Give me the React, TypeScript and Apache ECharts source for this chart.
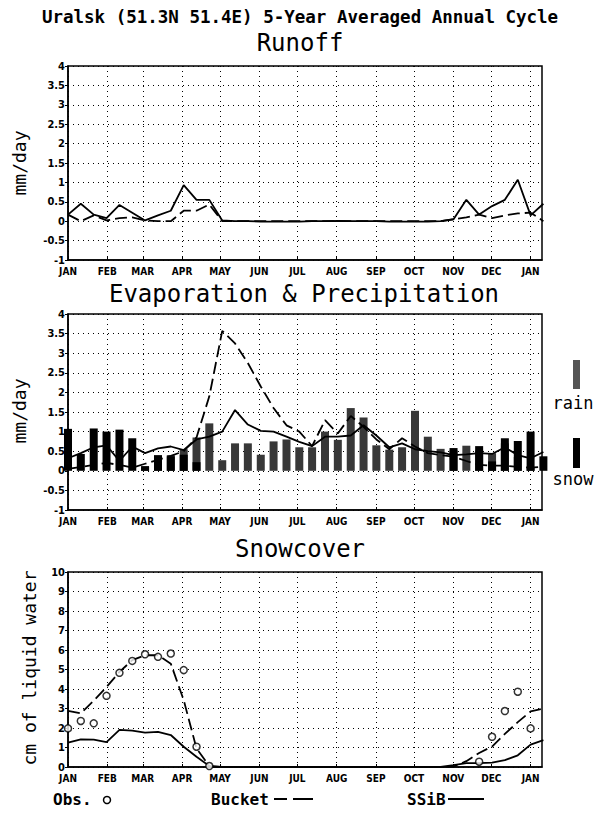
import React, { useEffect, useRef } from "react";
import * as echarts from "echarts";

// month boundaries (day of year) and their labels
const MONTH_DAYS = [0, 31, 59, 90, 120, 151, 181, 212, 243, 273, 304, 334, 365];
const MONTH_LABELS = ["JAN", "FEB", "MAR", "APR", "MAY", "JUN", "JUL", "AUG", "SEP", "OCT", "NOV", "DEC", "JAN"];

// 10-day (dekad) sample times, day of year
const DAYS = [
  0, 10.1, 20.3, 30.4, 40.6, 50.7, 60.8, 71.0, 81.1, 91.3, 101.4, 111.5, 121.7, 131.8, 141.9, 152.1, 162.2, 172.4, 182.5,
  192.6, 202.8, 212.9, 223.1, 233.2, 243.3, 253.5, 263.6, 273.8, 283.9, 294.0, 304.2, 314.3, 324.4, 334.6, 344.7, 354.9,
  365.0, 375.1,
];

// Runoff (mm/day)
const RUNOFF_SSIB = [
  0.17, 0.45, 0.17, 0.08, 0.42, 0.22, 0.02, 0.15, 0.27, 0.93, 0.55, 0.55, 0.02, 0, 0, -0.01, -0.01, -0.01, -0.01, 0, 0,
  0.01, 0, 0, 0, -0.01, -0.01, -0.01, -0.01, 0.0, 0.05, 0.55, 0.17, 0.39, 0.55, 1.07, 0.15, 0.45,
];
const RUNOFF_BUCKET = [
  0.17, 0.0, 0.15, 0.02, 0.08, 0.1, 0.02, 0.0, 0.0, 0.27, 0.27, 0.43, 0.0, 0, 0, 0, 0, 0, 0, 0, 0, 0, 0, 0, 0, 0, 0, 0,
  0, 0.0, 0.05, 0.1, 0.17, 0.08, 0.15, 0.2, 0.22, 0.0,
];

// Evaporation (mm/day)
const EVAP_SSIB = [
  0.32, 0.45, 0.6, 0.65, 0.25, 0.62, 0.45, 0.57, 0.62, 0.53, 0.8, 0.87, 1.0, 1.55, 1.18, 1.02, 1.0, 0.87, 0.74, 0.63,
  0.87, 0.87, 0.9, 1.16, 0.9, 0.6, 0.7, 0.55, 0.5, 0.47, 0.4, 0.42, 0.45, 0.43, 0.6, 0.4, 0.32, 0.48,
];
const EVAP_BUCKET = [
  0.05, 0.1, 0.15, 0.2, 0.15, 0.08, 0.18, 0.28, 0.38, 0.5, 0.85, 1.9, 3.57, 3.25, 2.75, 2.15, 1.6, 1.16, 1.0, 0.63, 1.29,
  0.95, 1.4, 1.12, 0.8, 0.55, 0.83, 0.62, 0.45, 0.4, 0.36, 0.25, 0.15, 0.13, 0.13, 0.1, 0.08, 0.1,
];

// Precipitation (mm/day): rain (grey) and snow (black), stacked
const PRECIP_RAIN = [
  0, 0, 0, 0, 0, 0, 0.1, 0.3, 0.4, 0.55, 0.85, 1.21, 0.27, 0.7, 0.7, 0.41, 0.75, 0.8, 0.6, 0.6, 1.0, 0.79, 1.6, 1.36,
  0.65, 0.54, 0.6, 1.53, 0.87, 0.56, 0.52, 0.64, 0.52, 0.45, 0.7, 0.35, 0.07, 0,
];
const PRECIP_SNOW = [
  1.07, 0.43, 1.08, 1.0, 1.05, 0.83, 0.12, 0.4, 0.37, 0.41, 0.22, 0, 0, 0, 0, 0, 0, 0, 0, 0, 0, 0, 0, 0, 0, 0, 0, 0, 0,
  0, 0.58, 0, 0.63, 0.24, 0.83, 0.76, 1.0, 0.37,
];

// Snowcover (cm of liquid water)
const SNOW_OBS = [
  1.98, 2.36, 2.24, 3.65, 4.83, 5.44, 5.78, 5.65, 5.82, 4.97, 1.04, 0.05, null, null, null, null, null, null, null,
  null, null, null, null, null, null, null, null, null, null, null, null, null, 0.27, 1.55, 2.87, 3.86, 1.98, 2.37,
];
const SNOW_SSIB = [
  1.25, 1.42, 1.4, 1.28, 1.9, 1.87, 1.76, 1.8, 1.64, 1.04, 0.53, 0.05, 0, 0, 0, 0, 0, 0, 0, 0, 0, 0, 0, 0, 0, 0, 0, 0,
  0, 0, 0.1, 0.2, 0.2, 0.22, 0.35, 0.6, 1.15, 1.38,
];
const SNOW_BUCKET = [
  2.88, 2.75, 3.4, 4.1, 4.88, 5.48, 5.73, 5.73, 5.3, 3.43, 0.95, 0.05, 0, 0, 0, 0, 0, 0, 0, 0, 0, 0, 0, 0, 0, 0, 0, 0,
  0, 0, 0.02, 0.3, 0.72, 1.05, 1.7, 2.3, 2.85, 3.0,
];

const MONO = "'DejaVu Sans Mono', monospace";
const COND = "'DejaVu Sans Condensed', 'Liberation Sans Narrow', sans-serif";

const pairs = (vals: (number | null)[]) =>
  vals.map((v, i) => [DAYS[i], v] as [number, number | null]).filter((p) => p[1] !== null);

const dotted = { color: "#000", width: 1, type: [1, 4] as any };

function xAxis(gridIndex: number) {
  return {
    type: "value",
    gridIndex,
    min: 0,
    max: 374,
    axisLine: { show: true, onZero: false, lineStyle: { color: "#000", width: 1.5 } },
    axisTick: { show: true, inside: true, length: 3, customValues: MONTH_DAYS, lineStyle: { color: "#000", width: 1 } },
    axisLabel: {
      customValues: MONTH_DAYS,
      formatter: (v: number) => {
        const k = MONTH_DAYS.indexOf(Math.round(v));
        return k >= 0 ? MONTH_LABELS[k] : "";
      },
      color: "#000",
      fontFamily: COND,
      fontWeight: "bold",
      fontSize: 10,
      margin: 6,
    },
    splitLine: { show: true, lineStyle: dotted },
  };
}

function yAxis(gridIndex: number, min: number, max: number, interval: number) {
  return {
    type: "value",
    gridIndex,
    min,
    max,
    interval,
    axisLine: { show: true, onZero: false, lineStyle: { color: "#000", width: 1.5 } },
    axisTick: { show: true, inside: false, length: 3, lineStyle: { color: "#000", width: 1 } },
    axisLabel: { color: "#000", fontFamily: COND, fontWeight: "bold", fontSize: 11, margin: 3 },
    splitLine: { show: true, lineStyle: dotted },
  };
}

const solid = { color: "#000", width: 1.8, type: "solid" as any };
const dashed = { color: "#000", width: 1.8, type: [12, 5] as any };

export default function App() {
  const ref = useRef<HTMLDivElement>(null);

  useEffect(() => {
    if (!ref.current) return;
    const chart = echarts.init(ref.current, null, { renderer: "svg" });
    const line = (x: number, data: (number | null)[], style: any) => ({
      type: "line",
      xAxisIndex: x,
      yAxisIndex: x,
      data: pairs(data),
      symbol: "none",
      lineStyle: style,
      z: 4,
      silent: true,
    });
    const option: any = {
      animation: false,
      backgroundColor: "#fff",
      grid: [
        { left: 68, top: 66, width: 474, height: 194, show: true, borderColor: "#000", borderWidth: 1.5 },
        { left: 68, top: 314, width: 474, height: 196, show: true, borderColor: "#000", borderWidth: 1.5 },
        { left: 68, top: 572, width: 474, height: 195, show: true, borderColor: "#000", borderWidth: 1.5 },
      ],
      xAxis: [xAxis(0), xAxis(1), xAxis(2)],
      yAxis: [yAxis(0, -1, 4, 0.5), yAxis(1, -1, 4, 0.5), yAxis(2, 0, 10, 1)],
      series: [
        line(0, RUNOFF_SSIB, solid),
        line(0, RUNOFF_BUCKET, dashed),
        {
          type: "bar",
          xAxisIndex: 1,
          yAxisIndex: 1,
          stack: "precip",
          barWidth: 8,
          data: pairs(PRECIP_RAIN),
          itemStyle: { color: "#383838" },
          z: 2,
          silent: true,
        },
        {
          type: "bar",
          xAxisIndex: 1,
          yAxisIndex: 1,
          stack: "precip",
          barWidth: 8,
          data: pairs(PRECIP_SNOW),
          itemStyle: { color: "#000" },
          z: 2,
          silent: true,
        },
        line(1, EVAP_SSIB, solid),
        line(1, EVAP_BUCKET, dashed),
        line(2, SNOW_SSIB, solid),
        line(2, SNOW_BUCKET, dashed),
        {
          type: "scatter",
          xAxisIndex: 2,
          yAxisIndex: 2,
          data: pairs(SNOW_OBS),
          symbol: "circle",
          symbolSize: 7,
          itemStyle: { color: "#fff", borderColor: "#000", borderWidth: 1.5 },
          z: 5,
          silent: true,
        },
      ],
      graphic: [
        {
          type: "text",
          x: 300,
          y: 17,
          style: {
            text: "Uralsk (51.3N 51.4E) 5-Year Averaged Annual Cycle",
            font: `bold 17.5px ${MONO}`,
            fill: "#000",
            align: "center",
            verticalAlign: "middle",
          },
        },
        { type: "text", x: 300, y: 43, style: { text: "Runoff", font: `24px ${MONO}`, fill: "#000", align: "center", verticalAlign: "middle" } },
        {
          type: "text",
          x: 304,
          y: 294,
          style: { text: "Evaporation & Precipitation", font: `24px ${MONO}`, fill: "#000", align: "center", verticalAlign: "middle" },
        },
        { type: "text", x: 300, y: 549, style: { text: "Snowcover", font: `24px ${MONO}`, fill: "#000", align: "center", verticalAlign: "middle" } },
        {
          type: "text",
          x: 19,
          y: 163,
          rotation: Math.PI / 2,
          style: { text: "mm/day", font: `18px ${MONO}`, fill: "#000", align: "center", verticalAlign: "middle" },
        },
        {
          type: "text",
          x: 19,
          y: 411,
          rotation: Math.PI / 2,
          style: { text: "mm/day", font: `18px ${MONO}`, fill: "#000", align: "center", verticalAlign: "middle" },
        },
        {
          type: "text",
          x: 29,
          y: 668,
          rotation: Math.PI / 2,
          style: { text: "cm of liquid water", font: `18px ${MONO}`, fill: "#000", align: "center", verticalAlign: "middle" },
        },
        { type: "rect", shape: { x: 573, y: 360, width: 7, height: 29 }, style: { fill: "#555" } },
        { type: "text", x: 573, y: 403, style: { text: "rain", font: `17px ${MONO}`, fill: "#000", align: "center", verticalAlign: "middle" } },
        { type: "rect", shape: { x: 573, y: 438, width: 7, height: 30 }, style: { fill: "#000" } },
        { type: "text", x: 573, y: 479, style: { text: "snow", font: `17px ${MONO}`, fill: "#000", align: "center", verticalAlign: "middle" } },
        { type: "text", x: 53, y: 799, style: { text: "Obs.", font: `bold 16px ${MONO}`, fill: "#000", align: "left", verticalAlign: "middle" } },
        { type: "circle", shape: { cx: 107, cy: 800, r: 3.5 }, style: { fill: "none", stroke: "#000", lineWidth: 1.5 } },
        { type: "text", x: 211, y: 799, style: { text: "Bucket", font: `bold 16px ${MONO}`, fill: "#000", align: "left", verticalAlign: "middle" } },
        { type: "line", shape: { x1: 274, y1: 799, x2: 287, y2: 799 }, style: { stroke: "#000", lineWidth: 2 } },
        { type: "line", shape: { x1: 293, y1: 799, x2: 313, y2: 799 }, style: { stroke: "#000", lineWidth: 2 } },
        { type: "text", x: 407, y: 799, style: { text: "SSiB", font: `bold 16px ${MONO}`, fill: "#000", align: "left", verticalAlign: "middle" } },
        { type: "line", shape: { x1: 448, y1: 799, x2: 484, y2: 799 }, style: { stroke: "#000", lineWidth: 2 } },
      ],
    };
    chart.setOption(option);
    return () => chart.dispose();
  }, []);

  return (
    <div
      ref={ref}
      style={{ position: "absolute", left: 0, top: 0, width: 596, height: 818, background: "#fff" }}
    />
  );
}
